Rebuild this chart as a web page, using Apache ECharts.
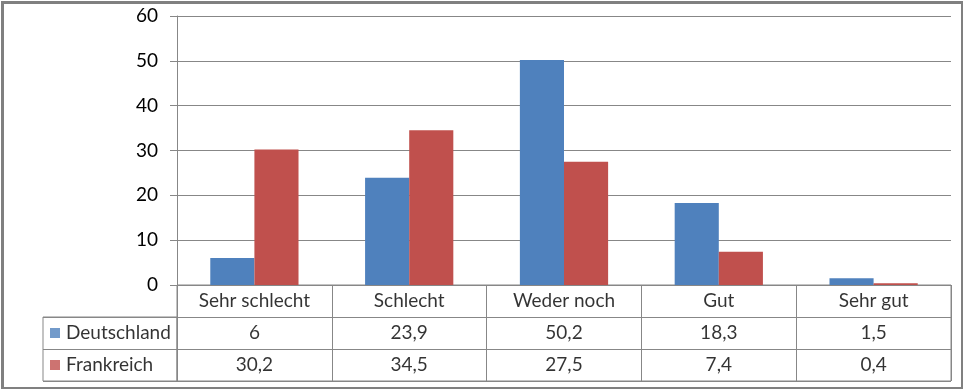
<!DOCTYPE html>
<html><head><meta charset="utf-8">
<script src="https://cdn.jsdelivr.net/npm/echarts@6/dist/echarts.min.js"></script>
<style>html,body{margin:0;padding:0;background:#fff}#c{width:963px;height:389px}</style>
</head><body><div id="c"></div>
<script>
const categories = ['Sehr schlecht', 'Schlecht', 'Weder noch', 'Gut', 'Sehr gut'];
const deutschland = [6, 23.9, 50.2, 18.3, 1.5];
const frankreich = [30.2, 34.5, 27.5, 7.4, 0.4];
const seriesNames = ['Deutschland', 'Frankreich'];
const seriesColors = ['#4F81BD', '#C0504D'];
const yTicks = [0, 60, 10];

const FONT = 'Lato';
const FS = 19;
const lineC = '#878787';
const fmt = v => String(v).replace('.', ',');

const tableCells = [];
categories.forEach((c, i) => {
  tableCells.push([i, 0, c]);
  tableCells.push([i, 1, fmt(deutschland[i])]);
  tableCells.push([i, 2, fmt(frankreich[i])]);
});
const legendCells = seriesNames.map((n, i) => [0, i, n]);

const chart = echarts.init(document.getElementById('c'), null, {renderer: 'canvas'});
chart.setOption({
  animation: false,
  backgroundColor: '#fff',
  textStyle: {fontFamily: FONT},
  graphic: [{
    type: 'rect', left: 0, top: 0, z: 100,
    shape: {x: 1.5, y: 1.5, width: 960, height: 386},
    style: {fill: 'none', stroke: '#808080', lineWidth: 3}
  }],
  grid: [
    {left: 177, top: 16, width: 774, height: 269},
    {left: 177, top: 285, width: 774, height: 96, show: true, borderColor: lineC, borderWidth: 1},
    {left: 43, top: 317, width: 134, height: 64, show: true, borderColor: lineC, borderWidth: 1}
  ],
  xAxis: [
    {gridIndex: 0, type: 'category', data: categories,
     axisLine: {lineStyle: {color: lineC}}, axisTick: {show: false}, axisLabel: {show: false}},
    {gridIndex: 1, type: 'category', data: categories,
     axisLine: {show: false}, axisTick: {show: false}, axisLabel: {show: false},
     splitLine: {show: true, lineStyle: {color: lineC, width: 1}}},
    {gridIndex: 2, type: 'value', min: 0, max: 1,
     axisLine: {show: false}, axisTick: {show: false}, axisLabel: {show: false}, splitLine: {show: false}}
  ],
  yAxis: [
    {gridIndex: 0, type: 'value', min: yTicks[0], max: yTicks[1], interval: yTicks[2],
     axisLine: {show: true, lineStyle: {color: lineC}},
     axisTick: {show: true, length: 7, lineStyle: {color: lineC}},
     axisLabel: {color: '#000', fontSize: FS, fontFamily: FONT, margin: 19},
     splitLine: {lineStyle: {color: lineC, width: 1}}},
    {gridIndex: 1, type: 'category', inverse: true, data: ['Kategorie'].concat(seriesNames),
     axisLine: {show: false}, axisTick: {show: false}, axisLabel: {show: false},
     splitLine: {show: true, lineStyle: {color: lineC, width: 1}}},
    {gridIndex: 2, type: 'category', inverse: true, data: seriesNames,
     axisLine: {show: false}, axisTick: {show: false}, axisLabel: {show: false},
     splitLine: {show: true, lineStyle: {color: lineC, width: 1}}}
  ],
  series: [
    {name: seriesNames[0], type: 'bar', xAxisIndex: 0, yAxisIndex: 0, data: deutschland,
     itemStyle: {color: seriesColors[0]}, barGap: '0%', barCategoryGap: '43%'},
    {name: seriesNames[1], type: 'bar', xAxisIndex: 0, yAxisIndex: 0, data: frankreich,
     itemStyle: {color: seriesColors[1]}, barGap: '0%', barCategoryGap: '43%'},
    {type: 'scatter', xAxisIndex: 1, yAxisIndex: 1, data: tableCells, symbolSize: 0, silent: true,
     label: {show: true, position: 'inside', color: '#000', fontSize: FS, fontFamily: FONT,
       formatter: p => p.data[2]}},
    {type: 'scatter', xAxisIndex: 2, yAxisIndex: 2, data: legendCells, symbolSize: 0, silent: true,
     label: {show: true, position: 'right', distance: 7, color: '#000', fontSize: FS, fontFamily: FONT,
       formatter: p => '{s' + p.dataIndex + '|}{t|' + p.data[2] + '}',
       rich: {
         s0: {width: 10, height: 10, backgroundColor: seriesColors[0]},
         s1: {width: 10, height: 10, backgroundColor: seriesColors[1]},
         t: {fontSize: FS, fontFamily: FONT, color: '#000', padding: [0, 0, 0, 6]}
       }}}
  ]
});
</script></body></html>
